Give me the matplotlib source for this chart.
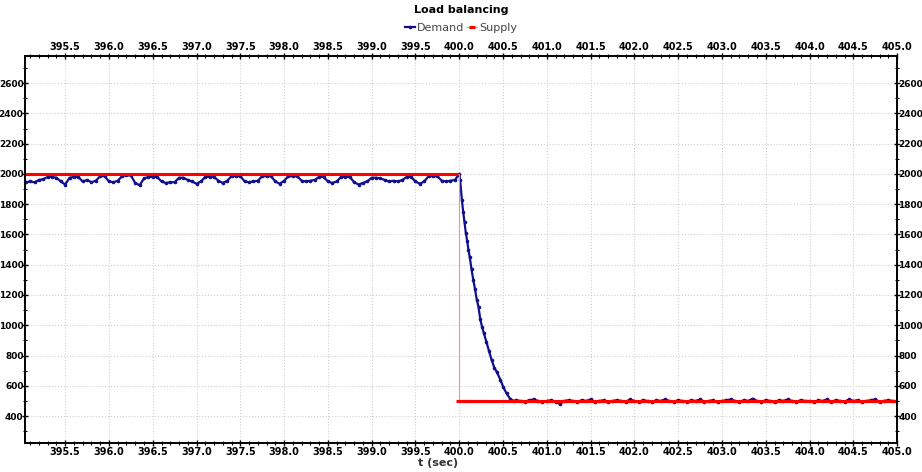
import matplotlib
matplotlib.use("Agg")
import matplotlib.pyplot as plt
from matplotlib.ticker import MultipleLocator
import numpy as np

# demand sampled every 0.05 s before the switch (395.05 .. 399.95)
demand_pre = [
    1945, 1950, 1945, 1960, 1965, 1980, 1980, 1975, 1950, 1930,
    1975, 1980, 1980, 1950, 1960, 1945, 1955, 1985, 1985, 1950,
    1945, 1955, 1985, 1990, 1990, 1940, 1925, 1970, 1980, 1980,
    1980, 1950, 1940, 1945, 1945, 1975, 1975, 1960, 1950, 1935,
    1950, 1980, 1980, 1980, 1955, 1940, 1955, 1985, 1985, 1985,
    1950, 1945, 1950, 1955, 1985, 1985, 1985, 1950, 1935, 1955,
    1985, 1985, 1985, 1955, 1950, 1955, 1960, 1980, 1980, 1950,
    1940, 1950, 1980, 1980, 1980, 1945, 1930, 1940, 1950, 1975,
    1975, 1970, 1960, 1950, 1955, 1950, 1960, 1980, 1980, 1950,
    1935, 1950, 1985, 1985, 1985, 1955, 1950, 1955, 1960,
]
t_pre_start = 395.05

# transient after the supply drop
t_drop = [400.00, 400.01, 400.03, 400.045, 400.06, 400.075, 400.09, 400.105,
          400.12, 400.14, 400.16, 400.18, 400.20, 400.22, 400.24, 400.26,
          400.28, 400.31, 400.34, 400.37, 400.40, 400.43, 400.47, 400.50,
          400.54, 400.58, 400.62]
demand_drop = [2000, 1960, 1830, 1750, 1680, 1610, 1560, 1500,
               1450, 1370, 1300, 1240, 1170, 1120, 1040, 990,
               950, 890, 830, 770, 720, 690, 640, 595,
               550, 515, 500]

# demand sampled every 0.05 s after settling (400.65 .. 405.0)
demand_post = [
    505, 500, 495, 505, 510, 500, 490, 500, 505, 495,
    480, 500, 505, 500, 495, 505, 500, 510, 495, 500,
    505, 490, 500, 505, 500, 495, 510, 500, 495, 505,
    500, 490, 505, 500, 510, 500, 495, 505, 500, 495,
    505, 500, 510, 495, 500, 505, 490, 500, 505, 510,
    500, 495, 505, 500, 515, 500, 495, 505, 500, 490,
    505, 500, 510, 500, 495, 505, 500, 500, 490, 505,
    500, 510, 495, 505, 500, 495, 510, 500, 505, 495,
    500, 505, 510, 495, 500, 505, 500, 495,
]
t_post_start = 400.65
dt = 0.05

# supply: constant levels, switched at t_switch
supply_levels = [2000, 500]
t_switch = 400.0

t_pre = t_pre_start + dt * np.arange(len(demand_pre))
t_post = t_post_start + dt * np.arange(len(demand_post))
t_all = np.concatenate([t_pre, t_drop, t_post])
demand = np.concatenate([demand_pre, demand_drop, demand_post])
supply = np.where(t_all < t_switch, supply_levels[0], supply_levels[1])

fig = plt.figure(figsize=(9.22, 4.72), dpi=100)
ax = fig.add_axes([0.027, 0.0614, 0.946, 0.8196])

ax.plot(t_all, demand, color='#10108c', lw=1.6, marker='o', ms=2.6,
        markeredgewidth=0, label='Demand')
ax.plot(t_all, supply, color='#ff8c8c', lw=0.8, drawstyle='steps-post',
        marker='_', ms=5, markeredgewidth=2.2, markeredgecolor='#ff0000',
        label='Supply')

ax.set_xlim(395.04, 405.0)
ax.set_ylim(222, 2778)
ax.xaxis.set_major_locator(MultipleLocator(0.5))
ax.xaxis.set_minor_locator(MultipleLocator(0.1))
ax.yaxis.set_minor_locator(MultipleLocator(100))
ax.xaxis.set_major_formatter(plt.FormatStrFormatter('%.1f'))
ax.set_yticks(np.arange(400, 2601, 200))

ax.tick_params(which='both', direction='inout', top=True, right=True,
               labeltop=True, labelright=True)
ax.tick_params(axis='x', labelsize=7, pad=1)
ax.tick_params(axis='y', labelsize=6.5, pad=-1)
ax.tick_params(which='major', length=4, width=1)
ax.tick_params(which='minor', length=2.5, width=0.8)
for t in ax.yaxis.get_major_ticks() + ax.xaxis.get_major_ticks():
    t.label1.set_fontweight('bold')
    t.label2.set_fontweight('bold')

for sp in ax.spines.values():
    sp.set_linewidth(1.4)

ax.grid(True, which='major', color='#d0d0d0', linestyle=':', lw=0.8)

fig.text(0.5, 0.979, 'Load balancing', ha='center', va='center',
         fontsize=8, fontweight='bold')
fig.legend(loc='center', bbox_to_anchor=(0.5, 0.94), ncol=2, frameon=False,
           fontsize=8, handlelength=0.9, handletextpad=0.2, columnspacing=0.2,
           borderpad=0, labelcolor='#444444')
fig.text(0.475, 0.019, 't (sec)', ha='center', va='center', fontsize=8,
         fontweight='bold', color='#333333')

fig.savefig('out.png', dpi=100)
